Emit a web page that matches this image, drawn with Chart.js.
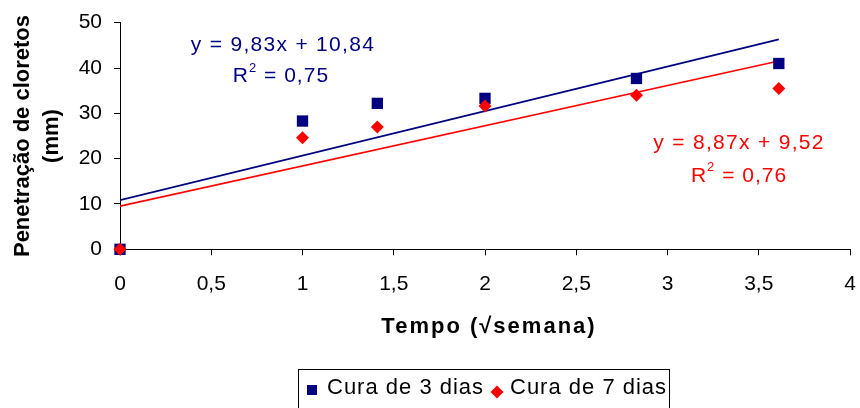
<!DOCTYPE html>
<html>
<head>
<meta charset="utf-8">
<style>
  html, body { margin: 0; padding: 0; background: #fff; }
  #wrap { width: 860px; height: 408px; }
</style>
<script src="https://cdn.jsdelivr.net/npm/chart.js@4.4.1/dist/chart.umd.min.js"></script>
</head>
<body>
<div id="wrap"><canvas id="chart" width="860" height="408"></canvas></div>
<script>
// Time (square root of weeks) and chloride penetration depth (mm)
const tempo = [0, 1, 1.41, 2, 2.83, 3.61];
const cura3 = [0, 28.3, 32.2, 33.3, 37.7, 41.0];
const cura7 = [0, 24.6, 27.0, 31.6, 34.0, 35.5];

// Linear fits for each curing period
const slope3 = 9.83, intercept3 = 10.84, r2_3 = '0,75';
const slope7 = 8.87, intercept7 = 9.52, r2_7 = '0,76';

const seriesLabels = ['Cura de 3 dias', 'Cura de 7 dias'];
const xTickLabels = ['0', '0,5', '1', '1,5', '2', '2,5', '3', '3,5', '4'];
const yTickLabels = ['0', '10', '20', '30', '40', '50'];
const xTitle = 'Tempo (\u221Asemana)';
const yTitle = ['Penetração de cloretos', '(mm)'];

const NAVY = '#000080';
const RED = '#FF0000';
const FONT = '"Liberation Sans", Arial, sans-serif';

const fmt = v => v.toFixed(2).replace('.', ',');

const pts = (xs, ys) => xs.map((x, i) => ({ x: x, y: ys[i] }));
const fitLine = (m, b) => {
  const x0 = tempo[0], x1 = tempo[tempo.length - 1];
  return [{ x: x0, y: m * x0 + b }, { x: x1, y: m * x1 + b }];
};

// Equation labels, anchored in data coordinates
const equations = [
  { color: NAVY, eq: 'y = ' + fmt(slope3) + 'x + ' + fmt(intercept3), r2: r2_3,
    at: [0.893, 45.1], r2At: [0.882, 38.2] },
  { color: RED, eq: 'y = ' + fmt(slope7) + 'x + ' + fmt(intercept7), r2: r2_7,
    at: [3.392, 23.4], r2At: [3.392, 16.2] }
];

function drawR2(ctx, cx, cy, value, color) {
  const big = '21px ' + FONT, small = '13px ' + FONT;
  ctx.font = big;
  const wR = ctx.measureText('R').width;
  const rest = ' = ' + value;
  const wRest = ctx.measureText(rest).width;
  ctx.font = small;
  const w2 = ctx.measureText('2').width;
  const total = wR + w2 + wRest;
  let x = cx - total / 2;
  ctx.fillStyle = color;
  ctx.textAlign = 'left';
  ctx.textBaseline = 'middle';
  ctx.font = big;
  ctx.fillText('R', x, cy);
  x += wR;
  ctx.font = small;
  ctx.fillText('2', x, cy - 8);
  x += w2;
  ctx.font = big;
  ctx.fillText(rest, x, cy);
}

const decorPlugin = {
  id: 'decor',
  afterDatasetsDraw(chart) {
    const ctx = chart.ctx;
    const xs = chart.scales.x, ys = chart.scales.y;
    ctx.save();
    // regression equations
    equations.forEach(e => {
      ctx.font = '21px ' + FONT;
      ctx.fillStyle = e.color;
      ctx.textAlign = 'center';
      ctx.textBaseline = 'middle';
      ctx.letterSpacing = '1.3px';
      ctx.fillText(e.eq, xs.getPixelForValue(e.at[0]), ys.getPixelForValue(e.at[1]));
      ctx.letterSpacing = '1px';
      drawR2(ctx, xs.getPixelForValue(e.r2At[0]), ys.getPixelForValue(e.r2At[1]), e.r2, e.color);
      ctx.letterSpacing = '0px';
    });
    ctx.restore();
  },
  afterDraw(chart) {
    const ctx = chart.ctx;
    const area = chart.chartArea;
    ctx.save();
    ctx.fillStyle = '#000';
    // axis titles
    ctx.font = 'bold 22px ' + FONT;
    ctx.letterSpacing = '2px';
    ctx.textAlign = 'center';
    ctx.textBaseline = 'middle';
    ctx.fillText(xTitle, (area.left + area.right) / 2 + 4, 327);
    ctx.letterSpacing = '0px';
    const cy = (area.top + area.bottom) / 2;
    ctx.translate(0, cy);
    ctx.rotate(-Math.PI / 2);
    ctx.fillText(yTitle[0], 0, 23);
    ctx.fillText(yTitle[1], 0, 52);
    ctx.restore();

    // legend box
    ctx.save();
    ctx.strokeStyle = '#000';
    ctx.lineWidth = 1;
    ctx.strokeRect(298.5, 369.5, 371, 45);
    ctx.font = '22px ' + FONT;
    ctx.letterSpacing = '1px';
    ctx.textAlign = 'left';
    ctx.textBaseline = 'middle';
    ctx.fillStyle = NAVY;
    ctx.fillRect(307, 385, 10, 10);
    ctx.fillStyle = '#000';
    ctx.fillText(seriesLabels[0], 327, 388);
    ctx.fillStyle = RED;
    ctx.beginPath();
    ctx.moveTo(497, 385.5);
    ctx.lineTo(503.5, 392);
    ctx.lineTo(497, 398.5);
    ctx.lineTo(490.5, 392);
    ctx.closePath();
    ctx.fill();
    ctx.fillStyle = '#000';
    ctx.fillText(seriesLabels[1], 510, 388);
    ctx.restore();
  }
};

new Chart(document.getElementById('chart'), {
  type: 'scatter',
  data: {
    datasets: [
      { label: seriesLabels[1], data: pts(tempo, cura7), order: 0, clip: false,
        pointStyle: 'rectRot', pointRadius: 6.5, pointHoverRadius: 6.5,
        backgroundColor: RED, borderColor: RED, borderWidth: 0 },
      { label: seriesLabels[0], data: pts(tempo, cura3), order: 1, clip: false,
        pointStyle: 'rect', pointRadius: 8, pointHoverRadius: 8,
        backgroundColor: NAVY, borderColor: NAVY, borderWidth: 0 },
      { label: 'fit7', type: 'line', data: fitLine(slope7, intercept7), order: 2,
        showLine: true, pointRadius: 0, borderColor: RED, borderWidth: 1.6, fill: false },
      { label: 'fit3', type: 'line', data: fitLine(slope3, intercept3), order: 3,
        showLine: true, pointRadius: 0, borderColor: NAVY, borderWidth: 1.6, fill: false }
    ]
  },
  options: {
    responsive: false,
    animation: false,
    events: [],
    layout: { padding: { top: 22.7, right: 10, left: 0, bottom: 0 } },
    plugins: { legend: { display: false }, tooltip: { enabled: false } },
    scales: {
      x: {
        type: 'linear', min: 0, max: 4,
        afterFit: s => { s.height = 158.7; s.paddingLeft = 6; s.paddingRight = 6; },
        border: { display: true, color: '#000', width: 1 },
        grid: { display: true, drawOnChartArea: false, drawTicks: true, tickLength: 6, color: '#000' },
        ticks: {
          stepSize: 0.5, padding: 16, color: '#000', maxRotation: 0,
          font: { family: FONT, size: 21 },
          callback: v => xTickLabels[Math.round(v / 0.5)]
        }
      },
      y: {
        type: 'linear', min: 0, max: 50,
        afterFit: s => { s.width = 120; s.paddingTop = 6; s.paddingBottom = 6; },
        border: { display: true, color: '#000', width: 1 },
        grid: { display: true, drawOnChartArea: false, drawTicks: true, tickLength: 6, color: '#000' },
        ticks: {
          stepSize: 10, padding: 12, color: '#000',
          font: { family: FONT, size: 21 },
          callback: v => yTickLabels[Math.round(v / 10)]
        }
      }
    }
  },
  plugins: [decorPlugin]
});
</script>
</body>
</html>
